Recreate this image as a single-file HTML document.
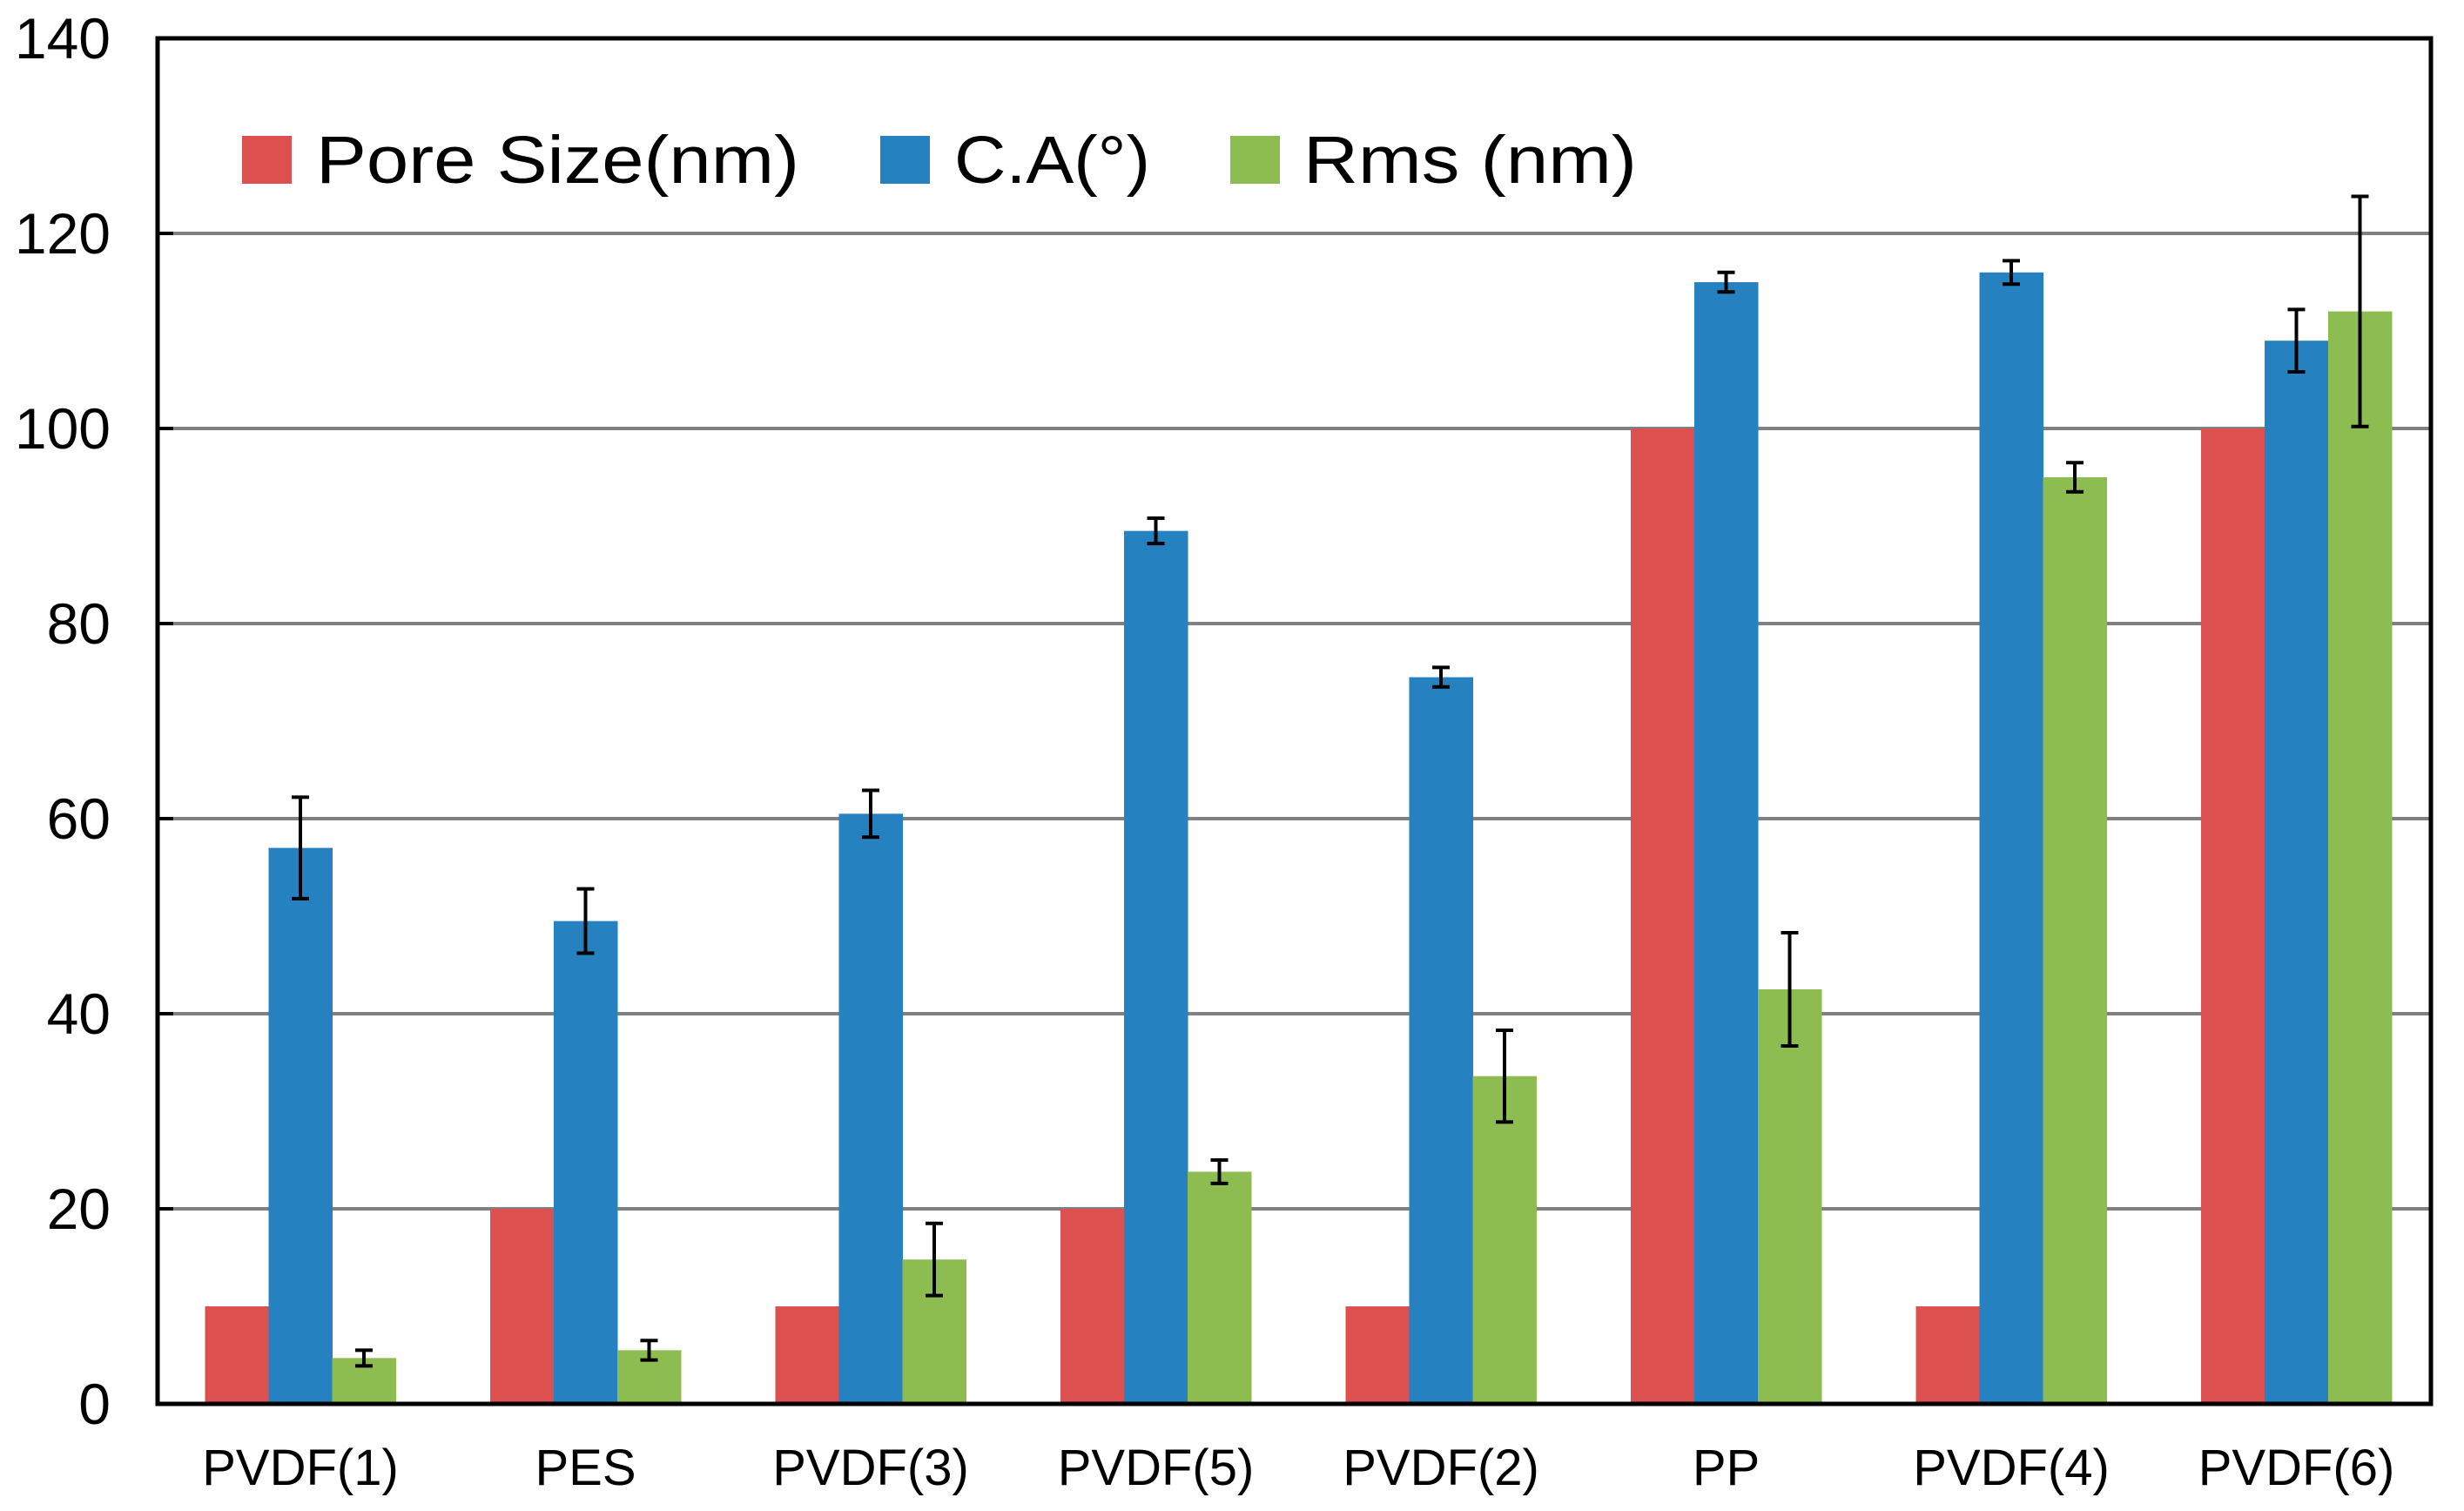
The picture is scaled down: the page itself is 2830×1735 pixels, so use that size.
<!DOCTYPE html>
<html><head><meta charset="utf-8"><style>html,body{margin:0;padding:0;background:#fff}svg{display:block}</style></head>
<body>
<svg id="chart" width="2830" height="1735" viewBox="0 0 2830 1735" xmlns="http://www.w3.org/2000/svg" font-family="'Liberation Sans', Arial, sans-serif"></svg>
<script>
const categories = ["PVDF(1)","PES","PVDF(3)","PVDF(5)","PVDF(2)","PP","PVDF(4)","PVDF(6)"];
const poreSize = [10,20,10,20,10,100,10,100];
const contactAngle = [57,49.5,60.5,89.5,74.5,115,116,109];
const contactAngleErr = [5.2,3.3,2.4,1.3,1.0,1.0,1.2,3.2];
const rms = [4.7,5.5,14.8,23.8,33.6,42.5,95,112];
const rmsErr = [0.8,1.0,3.7,1.2,4.7,5.8,1.5,11.8];
const yTicks = [0,20,40,60,80,100,120,140];
const seriesNames = ["Pore Size(nm)","C.A(°)","Rms (nm)"];

const NS = "http://www.w3.org/2000/svg";
const svg = document.getElementById('chart');
const L=181, R=2792, T=44, B=1612, yMax=140;
const y = v => B - v/yMax*(B-T);
const gw = 327.5, bw = 73, c0 = 345;
const xBar = (i,s) => c0 + gw*i - 1.5*bw + s*bw;
function el(tag, attrs){const e=document.createElementNS(NS,tag);for(const k in attrs)e.setAttribute(k,attrs[k]);svg.appendChild(e);return e;}

yTicks.forEach(t=>{
  if(t>0 && t<yMax){
    const g=el('line',{x1:L,x2:R,y1:y(t),y2:y(t),stroke:'#808080','stroke-width':4});
    
    
    const tk=el('line',{x1:L,x2:L+18,y1:y(t),y2:y(t),stroke:'#000','stroke-width':4});
    
    
  }
  const lb=el('text',{x:127,y:y(t)+23,'text-anchor':'end','font-size':66,fill:'#000'});
  lb.textContent=t;
  
  
});

const colors=['#DD5050','#2581C0','#8DBC50'];
const series=[poreSize,contactAngle,rms];
const errs=[null,contactAngleErr,rmsErr];
categories.forEach((c,i)=>{
  series.forEach((arr,s)=>{
    const r=el('rect',{x:xBar(i,s),y:y(arr[i]),width:bw+0.5,height:B-y(arr[i]),fill:colors[s]});
    
    
  });
  [1,2].forEach(s=>{
    const cx=xBar(i,s)+bw/2, v=series[s][i], e=errs[s][i];
    const g=document.createElementNS(NS,'g');svg.appendChild(g);
    
    
    [[cx,cx,y(v+e),y(v-e)],[cx-10,cx+10,y(v+e),y(v+e)],[cx-10,cx+10,y(v-e),y(v-e)]].forEach(p=>{
      const l=document.createElementNS(NS,'line');
      l.setAttribute('x1',p[0]);l.setAttribute('x2',p[1]);l.setAttribute('y1',p[2]);l.setAttribute('y2',p[3]);
      l.setAttribute('stroke','#000');l.setAttribute('stroke-width',4);g.appendChild(l);
    });
  });
  const t=el('text',{x:c0+gw*i,y:1705,'text-anchor':'middle','font-size':58,fill:'#000'});
  t.textContent=c;
  
  
});

const f=el('rect',{x:L,y:T,width:R-L,height:B-T,fill:'none',stroke:'#000','stroke-width':5});



const legX=[278,1011,1413], txtX=[363,1096,1497], txtW=[555,225,383];
seriesNames.forEach((n,s)=>{
  const sq=el('rect',{x:legX[s],y:156,width:57,height:55,fill:colors[s]});
  
  
  const t=el('text',{x:txtX[s],y:210,'font-size':77,fill:'#000',textLength:txtW[s],lengthAdjust:'spacingAndGlyphs'});
  t.textContent=n;
  
  
});
</script>
</body></html>
